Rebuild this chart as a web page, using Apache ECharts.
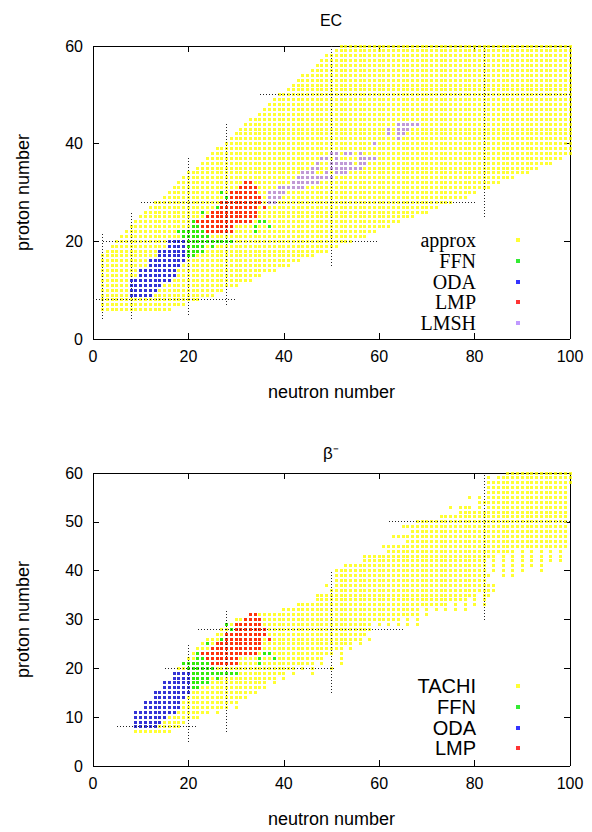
<!DOCTYPE html>
<html><head><meta charset="utf-8">
<script src="https://cdn.jsdelivr.net/npm/echarts@6/dist/echarts.min.js"></script>
<style>html,body{margin:0;padding:0;background:#fff}#c{width:592px;height:832px}#c svg path{shape-rendering:crispEdges}</style>
</head><body><div id="c"></div>
<script>
// ---- rows: [Z, Nfrom, Nto, Nfrom2, Nto2, ...] (inclusive ranges of neutron number) ----
const topApprox = [
 [6,2,16],[7,2,19],[8,2,22],[9,2,25],[10,2,27],[11,2,30],[12,2,33],[13,2,35],[14,2,38],[15,2,41],
 [16,2,43],[17,2,46],[18,3,49],[19,4,51],[20,5,54],[21,6,57],[22,7,59],[23,8,62],[24,9,64],[25,10,67],
 [26,11,70],[27,12,72],[28,13,75],[29,15,78],[30,16,80],[31,17,83],[32,18,85],[33,19,88],[34,20,91],[35,22,93],
 [36,23,96],[37,24,98],[38,25,100],[39,26,100],[40,28,100],[41,29,100],[42,30,100],[43,31,100],[44,32,100],[45,33,100],
 [46,35,100],[47,36,100],[48,37,100],[49,38,100],[50,39,100],[51,41,100],[52,42,100],[53,43,100],[54,44,100],[55,46,100],
 [56,47,100],[57,48,100],[58,49,100],[59,51,100],[60,52,100]
];
const topFFN = [
 [17,20,21],[18,20,23],[19,20,23,25,25],[20,20,29],[21,19,24],[22,18,23,34,34],[23,21,22,34,34,37,37],
 [24,21,21,35,36],[26,23,23],[27,26,26],[29,28,28],[30,27,27]
];
const topODA = [
 [9,8,12],[10,8,13],[11,8,14],[12,8,16],[13,10,17],[14,10,17],[15,12,18],[16,12,19],[17,14,19],[18,14,19],[19,16,19],[20,16,19]
];
const topLMP = [
 [22,24,29],[23,23,29],[24,22,33],[25,24,34],[26,25,34],[27,27,34,36,36],[28,27,35],[29,29,35],[30,29,34],[31,31,34],[32,32,33]
];
const topLMSH = [
 [28,37,38],[29,37,39],[30,37,40],[31,39,44],[32,42,47],[33,43,50],[34,44,46,49,49,51,53],[35,46,47,50,56],
 [36,47,47,50,54,56,57],[37,48,49,51,51,56,59],[38,50,51,53,54,56,56],[40,59,59],[41,64,64],[42,62,62,64,65],
 [43,62,62,64,66],[44,64,68]
];
const botTACHI = [
 [7,9,16],[8,9,18],[9,9,19],[10,9,22],[11,9,24,26,26],[12,11,28,30,30],[13,11,30],[14,13,32],[15,13,34],[16,15,36],
 [17,15,36,38,38],[18,17,38,40,40],[19,17,40,42,42,46,46],[20,18,42,44,44,46,46,50,50],[21,19,46,48,48,52,52],
 [22,20,48,52,52],[23,21,50,52,52],[24,22,52,54,54],[25,23,54,56,56],[26,24,56,58,58],[27,26,57],[28,27,58],
 [29,28,58,60,60,62,62,64,64,66,66,68,68],[30,30,64,66,66,68,68],[31,33,68,70,70],[32,40,68,70,70,72,72,74,74,76,76,78,78],
 [33,43,74,76,76,78,78,80,80,82,82],[34,47,78,80,80,82,82],[35,47,80,82,83],[36,50,84],[37,49,49,51,84],
 [38,51,82],[39,51,83,86,86,88,88],[40,51,82,84,84,86,86,88,88,90,90,94,94],[41,53,82,84,84,86,86,88,88,90,90,92,92,94,94],
 [42,57,82,84,84,86,86,88,88,90,90,92,92,94,94,96,96,98,98],[43,57,84,86,86,88,88,90,90,92,92,94,94,96,96,98,98],
 [44,62,88,90,90,92,92,94,94,96,96,98,98],[45,61,99],[46,66,99],[47,63,99],[48,67,99],[49,65,99],[50,68,99],
 [51,73,99],[52,77,99],[53,75,75,77,79,81,81,83,99],[54,81,99],[55,79,79,81,81,83,99],[56,83,99],[57,83,99],
 [58,83,100],[59,83,83,85,100],[60,87,100]
];
const botFFN = [
 [16,21,22],[17,21,24],[18,21,24,26,26],[19,21,30],[20,20,25],[21,19,24,35,35],[22,22,23,35,35,38,38],
 [23,22,22,36,37],[25,24,24],[26,27,27],[28,29,29],[29,28,28]
];
const botODA = [
 [8,9,13],[9,9,14],[10,9,15],[11,9,17],[12,11,18],[13,11,18],[14,13,19],[15,13,20],[16,15,20],[17,15,20],[18,17,20],[19,17,20]
];
const botLMP = [
 [21,25,30],[22,24,30],[23,23,34],[24,25,35],[25,26,35],[26,28,35,37,37],[27,28,36],[28,30,36],[29,30,35],[30,32,35],[31,33,34]
];
// magic-number guide lines: [N1, Z1, N2, Z2]
const topMagic = [[2,4,2,22],[8,4,8,26],[20,5,20,37],[28,7,28,44],[50,15,50,60],[82,25,82,60],
                  [0,8,30,8],[2,20,60,20],[10,28,80,28],[35,50,100,50]];
const botMagic = [[5,8,22,8],[20,5,20,25],[15,20,51,20],[28,7,28,32],[22,28,65,28],[50,15,50,40],[62,50,100,50],[82,30,82,60]];
const xTicks = {min:0, max:100, step:20};
const yTicksTop = {min:0, max:60, step:20};
const yTicksBot = {min:0, max:60, step:10};

const colors = {approx:'#ffff00', TACHI:'#ffff00', FFN:'#00e600', ODA:'#0000ff', LMP:'#ff0000', LMSH:'#b080ff'};

function expand(rows){
  const pts=[];
  rows.forEach(r=>{const z=r[0]; for(let i=1;i<r.length;i+=2){for(let n=r[i];n<=r[i+1];n++) pts.push([n,z]);}});
  return pts;
}
const FONT='Liberation Sans';
function xAx(grid, pos, show){
  return {type:'value', gridIndex:grid, position:pos, min:xTicks.min, max:xTicks.max, interval:xTicks.step,
    axisLine:{onZero:false, lineStyle:{color:'#000', width:1}},
    axisTick:{inside:true, length:6, lineStyle:{color:'#000'}},
    axisLabel:{show:show, fontFamily:FONT, fontSize:16, color:'#000', margin:9},
    splitLine:{show:false},
    name: show ? 'neutron number' : '', nameLocation:'middle', nameGap:44,
    nameTextStyle:{fontFamily:FONT, fontSize:18, color:'#000'}};
}
function yAx(grid, pos, show, t){
  return {type:'value', gridIndex:grid, position:pos, min:t.min, max:t.max, interval:t.step,
    axisLine:{onZero:false, lineStyle:{color:'#000', width:1}},
    axisTick:{inside:true, length:6, lineStyle:{color:'#000'}},
    axisLabel:{show:show, fontFamily:FONT, fontSize:16, color:'#000', margin:10},
    splitLine:{show:false},
    name: show ? 'proton number' : '', nameLocation:'middle', nameGap:61,
    nameTextStyle:{fontFamily:FONT, fontSize:18, color:'#000'}};
}
function sc(name, rows, ax){
  return {type:'scatter', name:name, xAxisIndex:ax, yAxisIndex:ax, data:expand(rows), symbol:'rect', symbolSize:3,
    itemStyle:{color:colors[name]}, silent:true, z:2};
}
function guides(list, ax){
  return list.map(s=>({type:'line', xAxisIndex:ax, yAxisIndex:ax, data:[[s[0],s[1]],[s[2],s[3]]], symbol:'none',
    lineStyle:{color:'#222', width:1, type:[1,2]}, silent:true, z:5}));
}
const chart = echarts.init(document.getElementById('c'), null, {renderer:'svg'});
chart.setOption({
  animation:false,
  backgroundColor:'#fff',
  title:[
    {text:'EC', left:331, top:12, textAlign:'center', padding:0, textStyle:{fontFamily:FONT, fontSize:16, fontWeight:'normal', color:'#000'}},
    {text:'β⁻', left:331, top:445, textAlign:'center', padding:0, textStyle:{fontFamily:FONT, fontSize:17, fontWeight:'normal', color:'#000'}}
  ],
  grid:[
    {left:93, top:46, width:477, height:293},
    {left:93, top:473, width:477, height:293}
  ],
  xAxis:[xAx(0,'bottom',true), xAx(0,'top',false), xAx(1,'bottom',true), xAx(1,'top',false)],
  yAxis:[yAx(0,'left',true,yTicksTop), yAx(0,'right',false,yTicksTop), yAx(1,'left',true,yTicksBot), yAx(1,'right',false,yTicksBot)],
  legend:[
    {data:['approx','FFN','ODA','LMP','LMSH'], orient:'vertical', right:72, top:230, align:'right', icon:'rect',
     itemWidth:4, itemHeight:4, itemGap:0, padding:0, selectedMode:false,
     textStyle:{fontFamily:'Liberation Serif', fontSize:20, color:'#000', lineHeight:20.7, padding:[0,35,0,0]}},
    {data:['TACHI','FFN','ODA','LMP'], orient:'vertical', right:72, top:676, align:'right', icon:'rect',
     itemWidth:4, itemHeight:4, itemGap:0, padding:0, selectedMode:false,
     textStyle:{fontFamily:FONT, fontSize:20, color:'#000', lineHeight:20.7, padding:[0,35,0,0]}}
  ],
  series:[
    sc('approx', topApprox, 0), sc('FFN', topFFN, 0), sc('ODA', topODA, 0), sc('LMP', topLMP, 0), sc('LMSH', topLMSH, 0),
    sc('TACHI', botTACHI, 2), sc('FFN', botFFN, 2), sc('ODA', botODA, 2), sc('LMP', botLMP, 2)
  ].concat(guides(topMagic,0), guides(botMagic,2))
});
</script></body></html>
